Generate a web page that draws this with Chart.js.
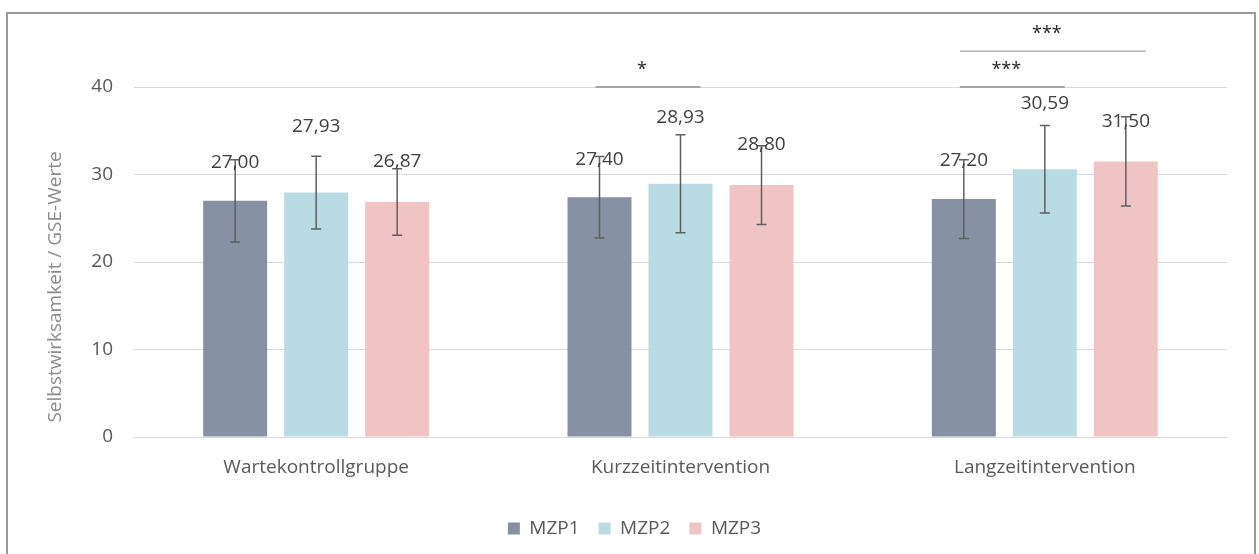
<!DOCTYPE html>
<html lang="de">
<head>
    <meta charset="UTF-8">
    <title>Selbstwirksamkeit GSE</title>
    <script src="https://cdn.jsdelivr.net/npm/chart.js"></script>
    <style>
        body {
            margin: 0;
            padding: 0;
            background: #ffffff;
            font-family: "Open Sans", Arial, sans-serif;
        }
        canvas {
            display: block;
        }
    </style>
</head>
<body>
    <canvas id="gseChart" width="1259" height="554"></canvas>

    <script>
        // data
        const gruppen = ['Wartekontrollgruppe', 'Kurzzeitintervention', 'Langzeitintervention'];
        const mzp1 = [27.00, 27.40, 27.20];
        const mzp2 = [27.93, 28.93, 30.59];
        const mzp3 = [26.87, 28.80, 31.50];
        const sd1 = [4.7, 4.65, 4.5];
        const sd2 = [4.15, 5.6, 5.0];
        const sd3 = [3.8, 4.5, 5.1];
        const yTicks = [0, 10, 20, 30, 40];
        const yTitle = 'Selbstwirksamkeit / GSE-Werte';

        // significance brackets: group, from series, to series, level, stars
        const brackets = [
            { group: 1, from: 0, to: 1, level: 0, label: '*' },
            { group: 2, from: 0, to: 1, level: 0, label: '***' },
            { group: 2, from: 0, to: 2, level: 1, label: '***' }
        ];

        const textColor = '#595959';
        const fontFamily = '"Open Sans", Arial, sans-serif';

        const errorBars = {
            id: 'errorBars',
            afterDatasetsDraw(chart) {
                const ctx = chart.ctx;
                const y = chart.scales.y;
                ctx.save();
                chart.data.datasets.forEach((ds, i) => {
                    const meta = chart.getDatasetMeta(i);
                    meta.data.forEach((bar, j) => {
                        const top = y.getPixelForValue(ds.data[j] + ds.sd[j]);
                        const bot = y.getPixelForValue(ds.data[j] - ds.sd[j]);
                        ctx.strokeStyle = '#5f5f5f';
                        ctx.lineWidth = 1.5;
                        ctx.beginPath();
                        ctx.moveTo(bar.x, top);
                        ctx.lineTo(bar.x, bot);
                        ctx.moveTo(bar.x - 5, top);
                        ctx.lineTo(bar.x + 5, top);
                        ctx.moveTo(bar.x - 5, bot);
                        ctx.lineTo(bar.x + 5, bot);
                        ctx.stroke();

                        // value label
                        ctx.fillStyle = '#404040';
                        ctx.font = '19px ' + fontFamily;
                        ctx.textAlign = 'center';
                        ctx.textBaseline = 'middle';
                        const txt = ds.data[j].toFixed(2).replace('.', ',');
                        ctx.fillText(txt, bar.x, bar.y - ds.labelLift);
                    });
                });

                // brackets
                brackets.forEach(b => {
                    const a = chart.getDatasetMeta(b.from).data[b.group];
                    const c = chart.getDatasetMeta(b.to).data[b.group];
                    const ly = y.getPixelForValue(40 + b.level * 4.1);
                    const x0 = a.x - 4;
                    const x1 = c.x + 20;
                    ctx.strokeStyle = b.level === 0 ? '#a6a6a6' : '#8c8c8c';
                    ctx.lineWidth = b.level === 0 ? 2 : 1;
                    ctx.beginPath();
                    ctx.moveTo(x0, ly);
                    ctx.lineTo(x1, ly);
                    ctx.stroke();
                    ctx.fillStyle = '#262626';
                    ctx.font = '18px ' + fontFamily;
                    ctx.textAlign = 'center';
                    ctx.textBaseline = 'middle';
                    ctx.fillText(b.label, (x0 + x1) / 2 - 6, ly - 17);
                });

                // y axis title, set a bit below the middle like the original
                ctx.save();
                ctx.translate(56, 287);
                ctx.rotate(-Math.PI / 2);
                ctx.fillStyle = '#8c8c8c';
                ctx.font = '19px ' + fontFamily;
                ctx.textAlign = 'center';
                ctx.textBaseline = 'middle';
                ctx.fillText(yTitle, 0, 0);
                ctx.restore();

                // outer frame
                ctx.strokeStyle = '#9a9a9a';
                ctx.lineWidth = 2;
                ctx.strokeRect(7, 13, 1248, 560);
                ctx.restore();
            }
        };

        const ctx = document.getElementById('gseChart').getContext('2d');
        const gseChart = new Chart(ctx, {
            type: 'bar',
            data: {
                labels: gruppen,
                datasets: [
                    { label: 'MZP1', data: mzp1, sd: sd1, labelLift: 38, backgroundColor: '#8691a3' },
                    { label: 'MZP2', data: mzp2, sd: sd2, labelLift: 66, backgroundColor: '#b9dbe3' },
                    { label: 'MZP3', data: mzp3, sd: sd3, labelLift: 40, backgroundColor: '#f0c4c4' }
                ]
            },
            options: {
                responsive: false,
                animation: false,
                categoryPercentage: 0.667,
                barPercentage: 0.79,
                layout: {
                    padding: { top: 87, right: 32, bottom: 6, left: 42 }
                },
                plugins: {
                    legend: {
                        position: 'bottom',
                        labels: {
                            boxWidth: 12,
                            boxHeight: 12,
                            padding: 19,
                            color: textColor,
                            font: { size: 19, family: fontFamily }
                        }
                    },
                    tooltip: { enabled: false }
                },
                scales: {
                    x: {
                        grid: { display: false, drawTicks: false },
                        border: { display: true, color: '#d9d9d9', width: 1 },
                        ticks: {
                            color: textColor,
                            padding: 19,
                            font: { size: 19, family: fontFamily }
                        },
                        afterFit(scale) { scale.height = 63; }
                    },
                    y: {
                        min: 0,
                        max: 40,
                        afterBuildTicks(scale) {
                            scale.ticks = yTicks.map(v => ({ value: v }));
                        },
                        grid: { color: '#d9d9d9', drawTicks: false },
                        border: { display: false },
                        ticks: {
                            color: textColor,
                            padding: 21,
                            font: { size: 19, family: fontFamily }
                        },
                        afterFit(scale) { scale.width = 92; }
                    }
                }
            },
            plugins: [errorBars]
        });
    </script>
</body>
</html>
